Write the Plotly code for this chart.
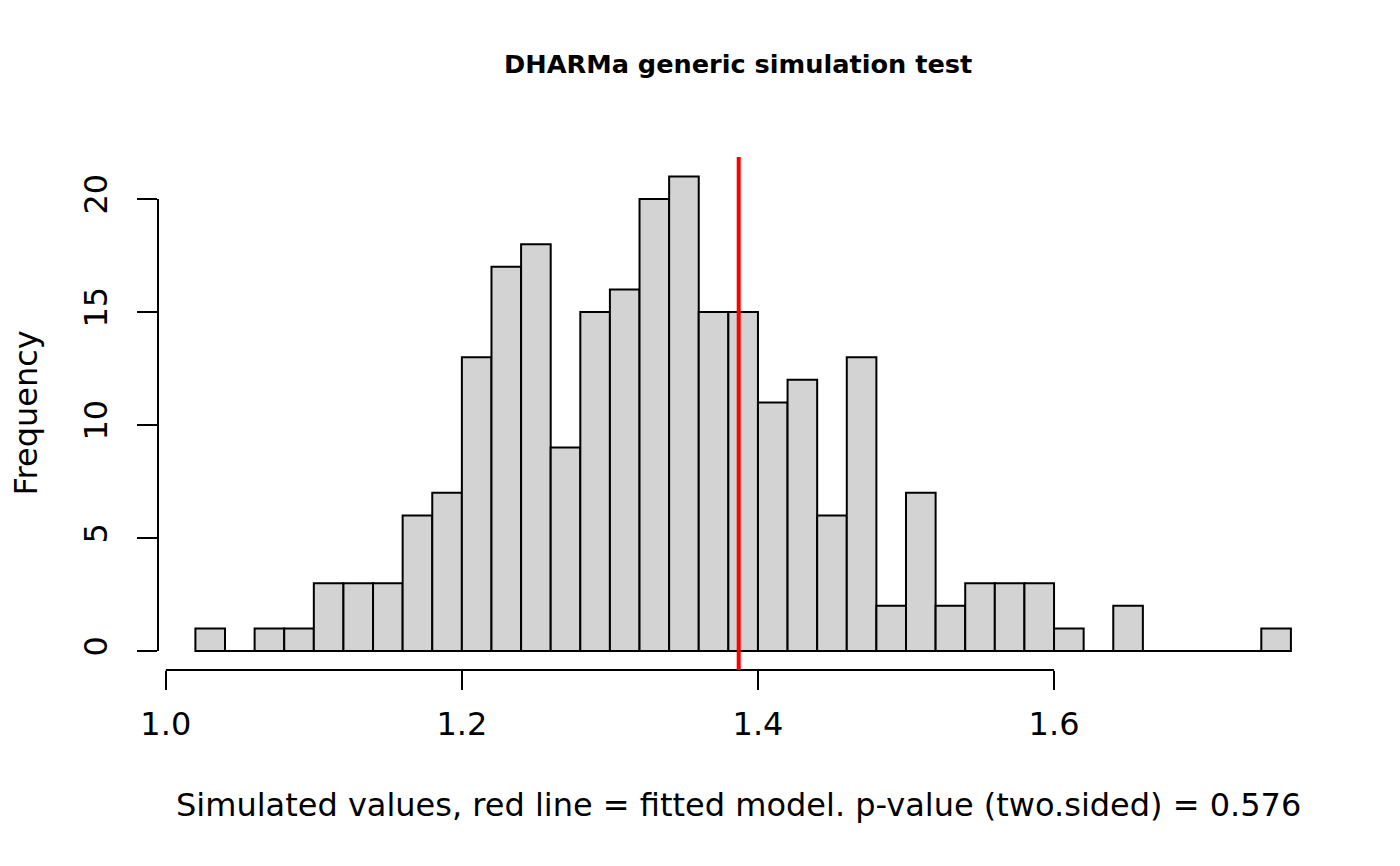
import numpy as np
import plotly.graph_objects as go

# histogram of simulated values (bin width 0.02)
bin_start = 1.02
bin_width = 0.02
counts = [1, 0, 1, 1, 3, 3, 3, 6, 7, 13, 17, 18, 9, 15, 16, 20, 21, 15, 15,
          11, 12, 6, 13, 2, 7, 2, 3, 3, 3, 1, 0, 2, 0, 0, 0, 0, 1]
observed = 1.387

x_ticks = [1.0, 1.2, 1.4, 1.6]
x_ticktext = ["1.0", "1.2", "1.4", "1.6"]
y_ticks = [0, 5, 10, 15, 20]

breaks = np.round(bin_start + bin_width * np.arange(len(counts) + 1), 4)
centers = (breaks[:-1] + breaks[1:]) / 2

FONT = "DejaVu Sans"

fig = go.Figure()
fig.add_trace(
    go.Bar(
        x=centers,
        y=counts,
        width=bin_width,
        marker=dict(color="#D3D3D3", line=dict(color="black", width=2)),
        showlegend=False,
        hoverinfo="x+y",
    )
)

shapes = [
    # baseline under empty bins
    dict(type="line", xref="x", yref="y", x0=breaks[0], x1=breaks[-1], y0=0, y1=0,
         line=dict(color="black", width=2), layer="below"),
    # R style axis lines (only between first and last tick)
    dict(type="line", xref="x", yref="paper", x0=x_ticks[0], x1=x_ticks[-1], y0=0, y1=0,
         line=dict(color="black", width=2)),
    dict(type="line", xref="paper", yref="y", x0=0, x1=0, y0=y_ticks[0], y1=y_ticks[-1],
         line=dict(color="black", width=2)),
    # fitted model value
    dict(type="line", xref="x", yref="paper", x0=observed, x1=observed, y0=0, y1=1,
         line=dict(color="red", width=4)),
]

fig.update_layout(
    width=1400,
    height=866,
    margin=dict(l=149.5, r=89.5, t=149, b=204, autoexpand=False),
    plot_bgcolor="white",
    paper_bgcolor="white",
    font=dict(family=FONT, color="black", size=32),
    shapes=shapes,
    xaxis=dict(
        range=[0.99474, 1.7783],
        tickvals=x_ticks,
        ticktext=x_ticktext,
        ticks="outside",
        ticklen=19,
        tickwidth=2,
        tickcolor="black",
        showgrid=False,
        zeroline=False,
        showline=False,
        ticklabelstandoff=7,
        tickfont=dict(size=32),
    ),
    yaxis=dict(
        range=[-0.84, 21.86],
        tickvals=y_ticks,
        ticks="outside",
        ticklen=20,
        tickwidth=2,
        tickcolor="black",
        tickangle=-90,
        showgrid=False,
        zeroline=False,
        showline=False,
        ticklabelstandoff=17,
        tickfont=dict(size=32),
    ),
    annotations=[
        dict(text="<b>DHARMa generic simulation test</b>", xref="paper", yref="paper",
             x=0.5, y=1, yshift=93, xanchor="center", yanchor="middle",
             showarrow=False, font=dict(size=25.6)),
        dict(text="Simulated values, red line = fitted model. p-value (two.sided) = 0.576",
             xref="paper", yref="paper", x=0.5, y=0, yshift=-135,
             xanchor="center", yanchor="middle", showarrow=False, font=dict(size=32)),
        dict(text="Frequency", xref="paper", yref="paper", x=0, y=0.5, xshift=-133,
             xanchor="center", yanchor="middle", textangle=-90, showarrow=False,
             font=dict(size=32)),
    ],
)

fig.write_html("out.html")
